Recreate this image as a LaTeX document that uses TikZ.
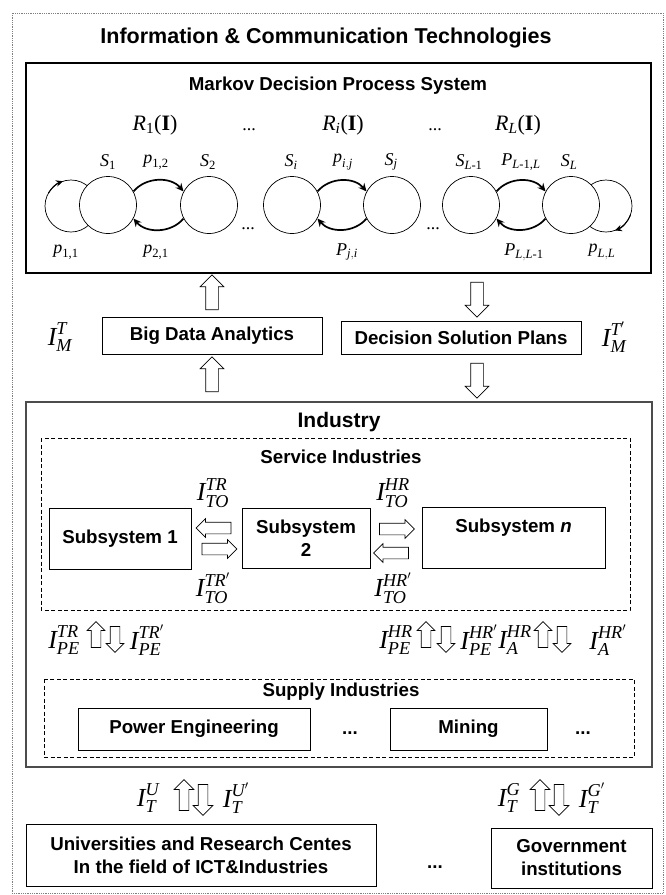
\documentclass[tikz,border=0pt]{standalone}
\usepackage{amsmath}
\usepackage{fontspec}
\setmainfont{Liberation Serif}
\setsansfont{Liberation Sans}
\usetikzlibrary{shapes.arrows,arrows.meta}

% Schriften und Formelzeichen
\newcommand{\lblfont}{\sffamily\bfseries\fontsize{18.7}{23}\selectfont}
\newcommand{\vi}[1]{\textit{#1}}
\newcommand{\vu}[1]{\text{#1}}

\tikzset{
  box/.style={draw,line width=0.9pt,font=\lblfont,align=center,inner sep=0pt},
  state/.style={circle,draw,fill=white,minimum size=57pt,inner sep=0pt,line width=0.7pt},
  trans/.style={line width=1.7pt,-{Stealth[length=8pt,width=7.5pt]}},
  selfloop/.style={line width=0.7pt},
  slbl/.style={font=\fontsize{18}{20}\selectfont,inner sep=0pt},
  rlbl/.style={font=\fontsize{22}{24}\selectfont,inner sep=0pt},
  ilbl/.style={font=\fontsize{26}{28}\selectfont,inner sep=0pt},
  blk/.style={single arrow,draw,fill=white,line width=0.7pt,single arrow head indent=0pt},
  bigblk/.style={blk,minimum height=35pt,inner sep=6pt,single arrow head extend=5.5pt},
  sideblk/.style={blk,minimum height=35pt,inner sep=5.5pt,single arrow head extend=3.5pt},
  smallblk/.style={blk,minimum height=26pt,inner sep=4.5pt,single arrow head extend=4pt},
  lowblk/.style={blk,minimum height=31pt,inner sep=4.5pt,single arrow head extend=5pt},
  dotsf/.style={font=\lblfont,inner sep=0pt},
  container/.style={line width=1.2pt},
  sector/.style={line width=0.8pt,dash pattern=on 4pt off 2.5pt},
}

\begin{document}
\begin{tikzpicture}[x=1pt,y=1pt]
  \useasboundingbox (0,0) rectangle (665,-895);

  % ICT Rahmen
  \draw[gray,line width=0.6pt,dash pattern=on 0.6pt off 1.2pt] (12,-13) rectangle (663,-893);
  \node[font=\sffamily\bfseries\fontsize{21.5}{24}\selectfont] (ict) at (326,-38) {Information \& Communication Technologies};

  % MDP
  \draw[container] (26,-63) rectangle (651,-273);
  \node[font=\lblfont] (mdp) at (338,-86) {Markov Decision Process System};
  \node[rlbl] (r1) at (155,-125) {$\vi{R}_{\vu{1}}\vu{(}\textbf{I}\vu{)}$};
  \node[slbl] (rdots1) at (249,-130) {...};
  \node[rlbl] (ri) at (343,-125) {$\vi{R}_{\vi{i}}\vu{(}\textbf{I}\vu{)}$};
  \node[slbl] (rdots2) at (435,-130) {...};
  \node[rlbl] (rl) at (518,-125) {$\vi{R}_{\vi{L}}\vu{(}\textbf{I}\vu{)}$};

  % Schleifen
  \draw[selfloop] (71,-206) circle (26);
  \draw[line width=1pt,-{Stealth[length=7pt,width=6.5pt]}] ([shift={(150:26)}]71,-206) arc[start angle=150,end angle=108,radius=26];
  \draw[selfloop] (606,-206) circle (26);
  \draw[line width=1pt,-{Stealth[length=7pt,width=6.5pt]}] ([shift={(-20:26)}]606,-206) arc[start angle=-20,end angle=-70,radius=26];

  % Zustaende
  \foreach \n/\x in {s1/108,s2/209,si/292,sj/392,sl1/471,sl/571}
    \node[state] (\n) at (\x,-205) {};
  \foreach \a/\b in {s1/s2,si/sj,sl1/sl} {
    \draw[trans] (\a.28) to[bend left=50] (\b.152);
    \draw[trans] (\b.-152) to[bend left=50] (\a.-28);
  }
  \node[slbl] (sdots1) at (248,-229) {...};
  \node[slbl] (sdots2) at (433,-229) {...};

  \node[slbl] (ls1) at (108,-162) {$\vi{S}_{\vu{1}}$};
  \node[slbl] (lp12) at (156,-162) {$\vi{p}_{\vu{1,2}}$};
  \node[slbl] (ls2) at (208,-162) {$\vi{S}_{\vu{2}}$};
  \node[slbl] (lsi) at (291,-162) {$\vi{S}_{\vi{i}}$};
  \node[slbl] (lpij) at (343,-162) {$\vi{p}_{\vi{i},\vi{j}}$};
  \node[slbl] (lsj) at (391,-162) {$\vi{S}_{\vi{j}}$};
  \node[slbl] (lsl1) at (469,-162) {$\vi{S}_{\vi{L}\vu{-1}}$};
  \node[slbl] (lpl1l) at (521,-162) {$\vi{P}_{\vi{L}\vu{-1,}\vi{L}}$};
  \node[slbl] (lsl) at (569,-162) {$\vi{S}_{\vi{L}}$};

  \node[slbl] (lp11) at (66,-252) {$\vi{p}_{\vu{1,1}}$};
  \node[slbl] (lp21) at (156,-252) {$\vi{p}_{\vu{2,1}}$};
  \node[slbl] (lpji) at (347,-252) {$\vi{P}_{\vi{j},\vi{i}}$};
  \node[slbl] (lpll1) at (524,-252) {$\vi{P}_{\vi{L},\vi{L}\vu{-1}}$};
  \node[slbl] (lpll) at (602,-252) {$\vi{p}_{\vi{L},\vi{L}}$};

  % Analyse und Plaene
  \node[box,minimum width=220pt,minimum height=37pt] (bda) at (212,-335.5) {Big Data Analytics};
  \node[box,minimum width=240pt,minimum height=33pt] (dsp) at (461,-337.5) {Decision Solution Plans};
  \node[ilbl] (imt) at (60,-337) {$\vi{I}^{\vi{T}}_{\vi{M}}$};
  \node[ilbl] (imt2) at (614,-337) {$\vi{I}^{\vi{T}'}_{\vi{M}}$};
  \node[bigblk,rotate=90] (up1) at (212,-295.5) {};
  \node[bigblk,rotate=-90] (dn1) at (477,-296.5) {};
  \node[bigblk,rotate=90] (up2) at (212,-377.5) {};
  \node[bigblk,rotate=-90] (dn2) at (477,-377.5) {};

  % Industrie
  \draw[container,gray!60!black,line width=1.5pt] (26,-402) rectangle (652,-767);
  \node[font=\sffamily\bfseries\fontsize{21}{24}\selectfont] (ind) at (339,-422) {Industry};

  % Dienstleistung
  \draw[sector] (41,-438) rectangle (630,-610);
  \node[font=\lblfont] (svc) at (341,-457) {Service Industries};
  \node[box,minimum width=142pt,minimum height=61pt] (sub1) at (120,-538.5) {Subsystem 1};
  \node[box,minimum width=128pt,minimum height=60pt] (sub2) at (306,-538) {Subsystem\\2};
  \node[box,minimum width=183pt,minimum height=61pt] (subn) at (513.5,-537.5) {\raisebox{10pt}[\height][\depth]{Subsystem \textit{n}}};
  \node[sideblk,rotate=180] (l12) at (216.5,-528) {};
  \node[sideblk] (r12) at (216.5,-549) {};
  \node[sideblk] (r2n) at (394,-529) {};
  \node[sideblk,rotate=180] (l2n) at (394,-553) {};
  \node[ilbl] (itotr) at (213,-493) {$\vi{I}^{\vi{TR}}_{\vi{TO}}$};
  \node[ilbl] (itotr2) at (213,-588) {$\vi{I}^{\vi{TR}'}_{\vi{TO}}$};
  \node[ilbl] (itohr) at (393,-493) {$\vi{I}^{\vi{HR}}_{\vi{TO}}$};
  \node[ilbl] (itohr2) at (393,-588) {$\vi{I}^{\vi{HR}'}_{\vi{TO}}$};

  % Zwischen Dienstleistung und Versorgung
  \node[ilbl] (ipetr) at (64,-640) {$\vi{I}^{\vi{TR}}_{\vi{PE}}$};
  \node[smallblk,rotate=90] (ua) at (96,-637) {};
  \node[smallblk,rotate=-90] (da) at (115,-637) {};
  \node[ilbl] (ipetr2) at (147,-640) {$\vi{I}^{\vi{TR}'}_{\vi{PE}}$};
  \node[ilbl] (ipehr) at (396,-640) {$\vi{I}^{\vi{HR}}_{\vi{PE}}$};
  \node[smallblk,rotate=90] (ub) at (426,-637) {};
  \node[smallblk,rotate=-90] (db) at (446,-637) {};
  \node[ilbl] (ipehr2) at (479,-640) {$\vi{I}^{\vi{HR}'}_{\vi{PE}}$};
  \node[ilbl] (iahr) at (515,-640) {$\vi{I}^{\vi{HR}}_{\vi{A}}$};
  \node[smallblk,rotate=90] (uc) at (543,-637) {};
  \node[smallblk,rotate=-90] (dc) at (562,-637) {};
  \node[ilbl] (iahr2) at (608,-640) {$\vi{I}^{\vi{HR}'}_{\vi{A}}$};

  % Versorgung
  \draw[sector] (44,-679) rectangle (634,-757);
  \node[font=\lblfont] (sup) at (341,-692) {Supply Industries};
  \node[box,minimum width=232pt,minimum height=42pt] (pe) at (194,-729) {Power Engineering};
  \node[dotsf] (pdots1) at (350,-733) {...};
  \node[box,minimum width=157pt,minimum height=42pt] (mine) at (468.5,-729) {Mining};
  \node[dotsf] (pdots2) at (583,-733) {...};

  % Universitaeten und Staat
  \node[ilbl] (itu) at (148,-798) {$\vi{I}^{\vi{U}}_{\vi{T}}$};
  \node[lowblk,rotate=90] (ud) at (184,-797.5) {};
  \node[lowblk,rotate=-90] (dd) at (203,-797.5) {};
  \node[ilbl] (itu2) at (236,-798) {$\vi{I}^{\vi{U}'}_{\vi{T}}$};
  \node[ilbl] (itg) at (509,-798) {$\vi{I}^{\vi{G}}_{\vi{T}}$};
  \node[lowblk,rotate=90] (ue) at (540,-797.5) {};
  \node[lowblk,rotate=-90] (de) at (559,-797.5) {};
  \node[ilbl] (itg2) at (592,-798) {$\vi{I}^{\vi{G}'}_{\vi{T}}$};

  \node[box,minimum width=350pt,minimum height=62pt] (uni) at (201,-855) {Universities and Research Centes\\In the field of ICT\&Industries};
  \node[dotsf] (bdots) at (435,-867) {...};
  \node[box,minimum width=161pt,minimum height=60pt] (gov) at (571.5,-858) {Government\\institutions};
\end{tikzpicture}
\end{document}
